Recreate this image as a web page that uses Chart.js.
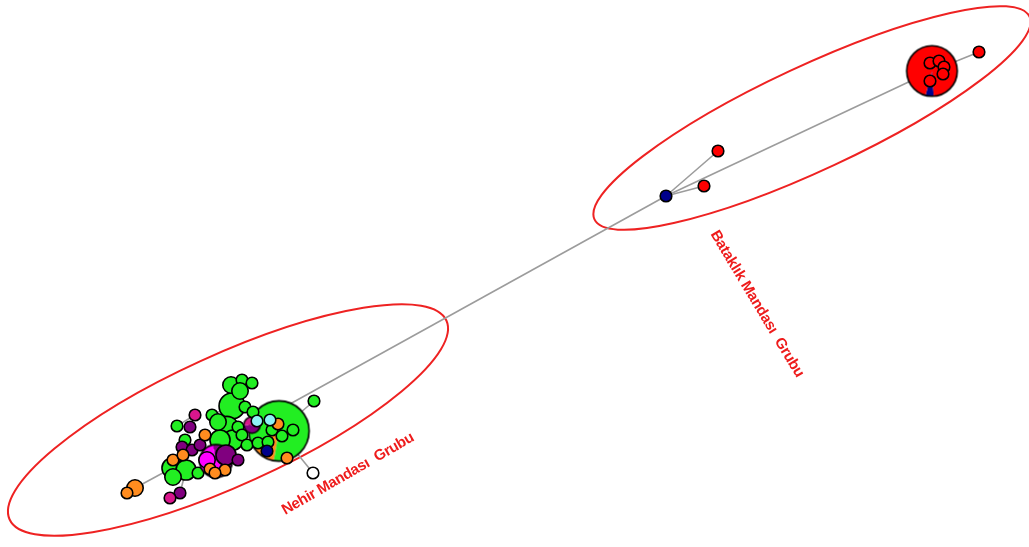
<!DOCTYPE html>
<html>
<head>
<meta charset="utf-8">
<script src="https://cdn.jsdelivr.net/npm/chart.js@4.4.1/dist/chart.umd.min.js"></script>
<style>
  html, body { margin: 0; padding: 0; background: #ffffff; overflow: hidden; }
  canvas { display: block; }
</style>
</head>
<body>
<canvas id="net" width="1029" height="547"></canvas>
<script>
// Haplotype network: layout coordinates of each haplotype (layout units)
const hapX = [932, 930, 939, 944, 943, 930, 979, 666, 718, 704,
              279, 252, 232, 227, 233, 172, 186, 231, 242, 252,
              240, 212, 245, 253, 238, 220, 242, 247, 258, 272,
              268, 293, 314, 177, 185, 198, 173, 282, 218, 216,
              190, 182, 192, 200, 226, 238, 180, 207, 195, 170,
              205, 173, 183, 210, 225, 215, 278, 287, 135, 127,
              257, 270, 267, 313];
const hapY = [71, 63, 61, 67, 74, 81, 52, 196, 151, 186,
              431, 425, 406, 428, 440, 468, 470, 385, 380, 383,
              391, 415, 407, 412, 427, 440, 435, 445, 443, 430,
              442, 430, 401, 426, 440, 473, 477, 436, 422, 461,
              427, 447, 450, 445, 455, 460, 493, 460, 415, 498,
              435, 460, 455, 469, 470, 473, 424, 458, 488, 493,
              421, 420, 451, 473];
// Individuals carrying each haplotype
const hapCount = [19, 1, 1, 1, 1, 1, 1, 1, 1, 1,
                  27, 2, 5, 4, 3, 3, 3, 2, 1, 1,
                  2, 1, 1, 1, 1, 3, 1, 1, 1, 1,
                  1, 1, 1, 1, 1, 1, 2, 1, 2, 8,
                  1, 1, 1, 1, 3, 1, 1, 2, 1, 1,
                  1, 1, 1, 1, 1, 1, 1, 1, 2, 1,
                  1, 1, 1, 1];
// Population of each haplotype ('mix' = shared by several populations)
const hapPop = ['mix', 'red', 'red', 'red', 'red', 'red', 'red', 'navy', 'red', 'red',
                'mix', 'mix', 'green', 'green', 'green', 'green', 'green', 'green', 'green', 'green',
                'green', 'green', 'green', 'green', 'green', 'green', 'green', 'green', 'green', 'green',
                'green', 'green', 'green', 'green', 'green', 'green', 'green', 'green', 'green', 'mix',
                'purple', 'purple', 'purple', 'purple', 'purple', 'purple', 'purple', 'magenta', 'pink', 'pink',
                'orange', 'orange', 'orange', 'orange', 'orange', 'orange', 'orange', 'orange', 'orange', 'orange',
                'cyan', 'cyan', 'navy', 'white'];
// Population make-up of shared haplotypes
const sharedParts = {
  0:  { navy: 1, red: 18 },
  10: { orange: 4, green: 23 },
  11: { purple: 1, pink: 1 },
  39: { purple: 3, magenta: 5 }
};
// Mutational links between haplotypes (index pairs)
const edgeFrom = [0, 7, 7, 7, 7, 10, 10, 58, 46, 49, 33, 48, 21];
const edgeTo   = [6, 0, 8, 9, 11, 32, 63, 15, 16, 46, 40, 33, 12];
// Group names
const groupNames = ['Nehir Mandası  Grubu', 'Bataklık Mandası  Grubu'];

const popColor = {
  green: '#22EE22', orange: '#FF8C1F', purple: '#80007F', magenta: '#FF00FF',
  pink: '#D8168C', cyan: '#8EF3F6', navy: '#00008B', red: '#FF0000', white: '#FFFFFF'
};
const sliceStart = { 0: 86, 10: 100, 11: 0, 39: -100 };

function radiusOf(n) { return 5.8 * Math.sqrt(n); }

// Pie glyph for shared haplotypes, used as the point style
function pieGlyph(parts, startDeg, r) {
  const size = Math.ceil(2 * r + 4);
  const c = document.createElement('canvas');
  c.width = size; c.height = size;
  const g = c.getContext('2d');
  const m = size / 2;
  const total = Object.values(parts).reduce((s, v) => s + v, 0);
  let a = startDeg * Math.PI / 180;
  for (const [pop, n] of Object.entries(parts)) {
    const da = n / total * Math.PI * 2;
    g.beginPath();
    g.moveTo(m, m);
    g.arc(m, m, r, a, a + da);
    g.closePath();
    g.fillStyle = popColor[pop];
    g.fill();
    a += da;
  }
  g.beginPath();
  g.arc(m, m, r, 0, Math.PI * 2);
  g.lineWidth = 1.6;
  g.strokeStyle = '#000';
  g.stroke();
  return c;
}

const glyphs = {};
Object.keys(sharedParts).forEach(k => {
  glyphs[k] = pieGlyph(sharedParts[k], sliceStart[k], radiusOf(hapCount[k]));
});

const edgeSets = edgeFrom.map((a, i) => ({
  type: 'line',
  data: [{ x: hapX[a], y: hapY[a] }, { x: hapX[edgeTo[i]], y: hapY[edgeTo[i]] }],
  borderColor: '#9C9C9C',
  borderWidth: 1.6,
  pointRadius: 0,
  order: 2,
  clip: false
}));

const nodeSet = {
  type: 'bubble',
  data: hapX.map((x, i) => ({ x: x, y: hapY[i], r: radiusOf(hapCount[i]) })),
  backgroundColor: hapPop.map(p => popColor[p] || '#FFFFFF'),
  borderColor: '#000000',
  borderWidth: 1.6,
  pointStyle: ctx => glyphs[ctx.dataIndex] || 'circle',
  order: 1,
  clip: false
};

// Group outlines (ellipses) and group names
const groups = [
  { cx: 228, cy: 420, a: 240, b: 65, rot: -24.5, lx: 348, ly: 474, langle: -30 },
  { cx: 812, cy: 118, a: 240, b: 52, rot: -25, lx: 757, ly: 304, langle: 59 }
];

const groupPlugin = {
  id: 'groupOutlines',
  beforeDatasetsDraw(chart) {
    const { ctx, scales: { x, y } } = chart;
    const k = x.getPixelForValue(1) - x.getPixelForValue(0);
    ctx.save();
    ctx.strokeStyle = '#EE2222';
    ctx.lineWidth = 2;
    groups.forEach(gr => {
      ctx.beginPath();
      ctx.ellipse(x.getPixelForValue(gr.cx), y.getPixelForValue(gr.cy),
                  gr.a * k, gr.b * k, gr.rot * Math.PI / 180, 0, Math.PI * 2);
      ctx.stroke();
    });
    ctx.restore();
  },
  afterDatasetsDraw(chart) {
    const { ctx, scales: { x, y } } = chart;
    ctx.save();
    ctx.fillStyle = '#EE1C1C';
    ctx.font = 'bold 15px "Liberation Sans", Arial, sans-serif';
    ctx.letterSpacing = '-0.3px';
    ctx.textAlign = 'center';
    ctx.textBaseline = 'middle';
    groups.forEach((gr, i) => {
      ctx.save();
      ctx.translate(x.getPixelForValue(gr.lx), y.getPixelForValue(gr.ly));
      ctx.rotate(gr.langle * Math.PI / 180);
      ctx.fillText(groupNames[i], 0, 0);
      ctx.restore();
    });
    ctx.restore();
  }
};

new Chart(document.getElementById('net'), {
  data: { datasets: [...edgeSets, nodeSet] },
  options: {
    responsive: false,
    devicePixelRatio: 1,
    animation: false,
    events: [],
    layout: { padding: 0, autoPadding: false },
    scales: {
      x: { type: 'linear', min: 0, max: 1029, display: false },
      y: { type: 'linear', min: 0, max: 547, reverse: true, display: false }
    },
    plugins: { legend: { display: false }, tooltip: { enabled: false } }
  },
  plugins: [groupPlugin]
});
</script>
</body>
</html>
